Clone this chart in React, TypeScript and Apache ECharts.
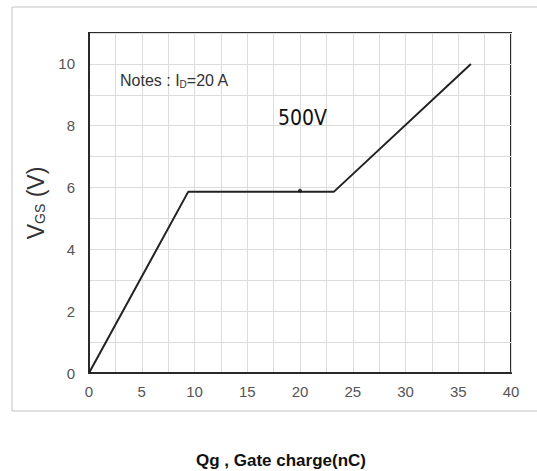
import React, { useEffect, useRef } from "react";
import * as echarts from "echarts";

const gateCharge = [0, 9.4, 23.2, 36.2];
const gateVoltage = [0, 5.86, 5.86, 10];
const markerPoint = [[20, 5.9]];
const xTicks = [0, 5, 10, 15, 20, 25, 30, 35, 40];
const yTicks = [0, 2, 4, 6, 8, 10];
const noteText = "Notes : I";
const noteSub = "D";
const noteTail = "=20 A";
const curveLabel = "500V";
const xTitle = "Qg , Gate charge(nC)";

export default function App() {
  const ref = useRef<HTMLDivElement>(null);
  useEffect(() => {
    if (!ref.current) return;
    const chart = echarts.init(ref.current, undefined, { renderer: "svg" });
    const data = gateCharge.map((q, i) => [q, gateVoltage[i]]);
    chart.setOption({
      animation: false,
      backgroundColor: "#ffffff",
      grid: {
        left: 89,
        top: 33,
        width: 422,
        height: 340,
        show: true,
        borderColor: "#2a2a2a",
        borderWidth: 2,
        backgroundColor: "transparent",
      },
      xAxis: {
        type: "value",
        min: 0,
        max: 40,
        interval: 2.5,
        axisLine: { show: true, lineStyle: { color: "#2a2a2a", width: 2 } },
        axisTick: { show: false },
        axisLabel: {
          color: "#555",
          fontSize: 15,
          fontFamily: "Arial, Liberation Sans, sans-serif",
          margin: 11,
          formatter: (v: number) => (xTicks.includes(v) ? String(v) : ""),
        },
        splitLine: { show: true, lineStyle: { color: "#dcdcdc", width: 1 } },
      },
      yAxis: {
        type: "value",
        min: 0,
        max: 11,
        interval: 1,
        axisLine: { show: true, lineStyle: { color: "#2a2a2a", width: 2 } },
        axisTick: { show: false },
        axisLabel: {
          color: "#555",
          fontSize: 15,
          fontFamily: "Arial, Liberation Sans, sans-serif",
          margin: 14,
          formatter: (v: number) => (yTicks.includes(v) ? String(v) : ""),
        },
        splitLine: { show: true, lineStyle: { color: "#dcdcdc", width: 1 } },
        name: "{v|V}{s|GS}{v| (V)}",
        nameLocation: "middle",
        nameGap: 40,
        nameRotate: 90,
        nameTextStyle: {
          rich: {
            v: { fontSize: 23, color: "#333", fontFamily: "Arial, Liberation Sans, sans-serif" },
            s: {
              fontSize: 14,
              color: "#333",
              fontFamily: "Arial, Liberation Sans, sans-serif",
              padding: [9, 0, 0, 0],
            },
          },
        },
      },
      series: [
        {
          type: "line",
          data,
          symbol: "none",
          lineStyle: { color: "#222", width: 2 },
          z: 3,
        },
        {
          type: "scatter",
          data: markerPoint,
          symbolSize: 4,
          itemStyle: { color: "#111" },
          z: 4,
        },
      ],
      graphic: [
        {
          type: "rect",
          shape: { x: 12, y: 7, width: 540, height: 404 },
          style: { fill: "none", stroke: "#c4c4c4", lineWidth: 1 },
          silent: true,
          z: 0,
        },
        {
          type: "text",
          x: 120,
          y: 80,
          style: {
            text: `{a|${noteText}}{b|${noteSub}}{a|${noteTail}}`,
            verticalAlign: "middle",
            rich: {
              a: { fontSize: 16, fill: "#333", fontFamily: "Arial, Liberation Sans, sans-serif" },
              b: {
                fontSize: 10,
                fill: "#333",
                fontFamily: "Arial, Liberation Sans, sans-serif",
                padding: [8, 0, 0, 0],
              },
            },
          },
          z: 10,
        },
        {
          type: "text",
          x: 278,
          y: 118,
          style: {
            text: curveLabel,
            fontSize: 21,
            fill: "#111",
            fontFamily: "'Liberation Sans Narrow', 'DejaVu Sans Condensed', Arial, sans-serif",
            verticalAlign: "middle",
          },
          z: 10,
        },
        {
          type: "text",
          x: 281,
          y: 460,
          style: {
            text: xTitle,
            fontSize: 17,
            fontWeight: "bold",
            fill: "#111",
            fontFamily: "Arial, Liberation Sans, sans-serif",
            align: "center",
            verticalAlign: "middle",
          },
          z: 10,
        },
      ],
    });
    return () => chart.dispose();
  }, []);
  return (
    <div
      ref={ref}
      style={{ position: "absolute", left: 0, top: 0, width: 537, height: 471 }}
    />
  );
}
